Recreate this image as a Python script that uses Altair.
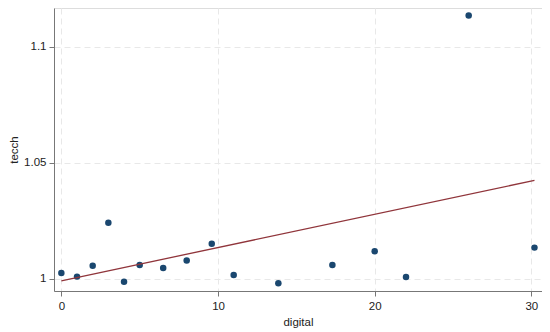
import altair as alt
import pandas as pd

digital = [0, 1.0, 2.0, 3.0, 4.0, 5.0, 6.5, 8.0, 9.6, 11.0, 13.85, 17.3, 20.0, 22.0, 26.0, 30.2]
tecch = [1.0025, 1.0009, 1.0056, 1.0241, 0.9987, 1.0059, 1.0046, 1.0078, 1.0151, 1.0016,
         0.9980, 1.0059, 1.0118, 1.0007, 1.1135, 1.0134]

fit_x = [0, 30.2]
fit_y = [0.9991, 1.0424]

pts = pd.DataFrame({"digital": digital, "tecch": tecch})
fit = pd.DataFrame({"digital": fit_x, "tecch": fit_y})

xscale = alt.Scale(domain=[-0.47, 30.68], nice=False, zero=False)
yscale = alt.Scale(domain=[0.9947, 1.1167], nice=False, zero=False)

xaxis = alt.Axis(values=[0, 10, 20, 30], title="digital", grid=True, gridDash=[6, 4],
                 gridColor="#e8e8e8", domainColor="#777777", tickColor="#777777",
                 tickSize=5, labelFontSize=11.5, titleFontSize=11.5, titleFontWeight="normal",
                 labelColor="#222222", titleColor="#222222", labelPadding=4, titlePadding=5,
                 labelFont="Liberation Sans", titleFont="Liberation Sans")
yaxis = alt.Axis(values=[1, 1.05, 1.1], title="tecch", grid=True, gridDash=[6, 4],
                 gridColor="#e8e8e8", domainColor="#777777", tickColor="#777777",
                 tickSize=5, labelFontSize=11.5, titleFontSize=11.5, titleFontWeight="normal",
                 labelColor="#222222", titleColor="#222222", labelPadding=3, titlePadding=4,
                 labelFont="Liberation Sans", titleFont="Liberation Sans",
                 labelExpr="datum.value == 1 ? '1' : format(datum.value, '.3~f')")

points = alt.Chart(pts).mark_circle(size=42, color="#1a476f", opacity=1).encode(
    x=alt.X("digital:Q", scale=xscale, axis=xaxis),
    y=alt.Y("tecch:Q", scale=yscale, axis=yaxis),
)
line = alt.Chart(fit).mark_line(color="#90353b", strokeWidth=1.3).encode(
    x=alt.X("digital:Q", scale=xscale),
    y=alt.Y("tecch:Q", scale=yscale),
)

chart = alt.layer(points, line).properties(
    width=488, height=283,
    autosize=alt.AutoSizeParams(type="none"),
    padding={"left": 46, "top": 0, "right": 0, "bottom": 37},
).configure_view(stroke=None).configure(background="white")

chart.save("out.html", embed_options={"renderer": "svg", "actions": False})
